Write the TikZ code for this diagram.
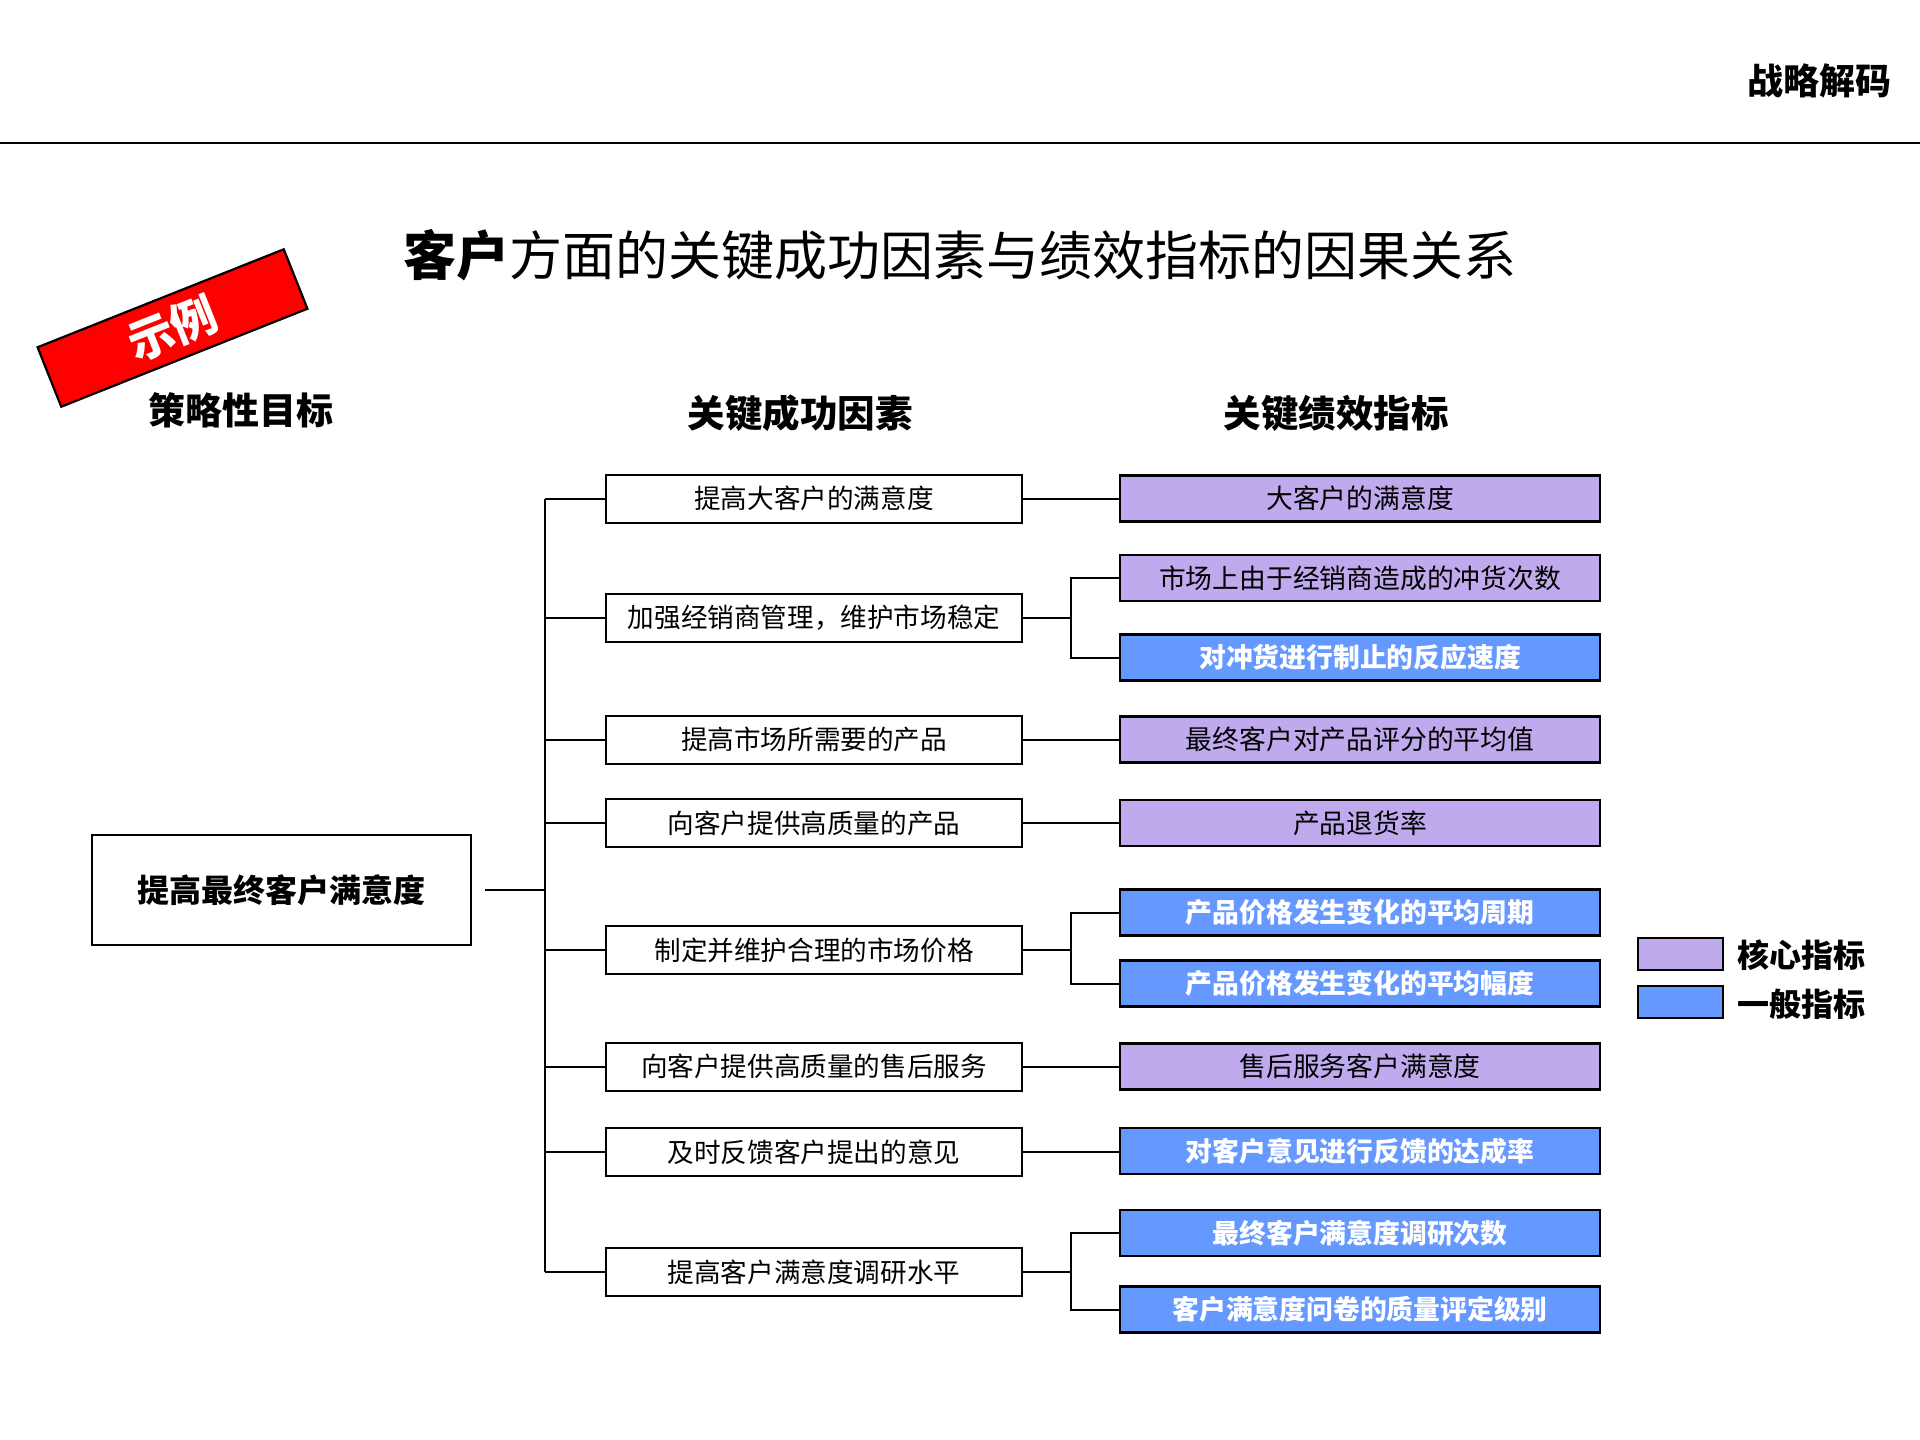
\documentclass[tikz,border=0pt]{standalone}
\usepackage{fontspec}
\setmainfont{Noto Sans CJK SC}
\definecolor{corec}{HTML}{BFAAEE}
\definecolor{genc}{HTML}{6699FF}
\begin{document}
\begin{tikzpicture}[x=1pt,y=-1pt,
  fs/.style={font=\fontsize{#1}{#1}\selectfont},
  fsb/.style={font=\fontsize{#1}{#1}\selectfont\bfseries},
  conn/.style={line width=2pt},
  midbox/.style={draw, line width=2pt, minimum width=416, minimum height=48, inner sep=0, fs=26.6},
  kpi/.style={draw, line width=2.2pt, minimum width=480, minimum height=46, inner sep=0},
  core/.style={kpi, fill=corec, fs=26.8},
  gen/.style={kpi, fill=genc, text=white, fsb=26.8},
  hdr/.style={fsb=37.5},
]
\useasboundingbox (0,0) rectangle (1920,1440);
% header
\draw[line width=2pt] (0,143) -- (1920,143);
\node[fsb=36, anchor=east] (brand) at (1895,81) {战略解码};
% title
\node[fs=53] (title) at (960,255) {{\bfseries 客户}方面的关键成功因素与绩效指标的因果关系};
% stamp
\node[rotate=21.7, fill=red, draw=black, line width=2.2pt, minimum width=265, minimum height=64, inner sep=0, fsb=46, text=white] (stamp) at (172.5,328) {示例};
% column headers
\node[fsb=37] (h1) at (241,410) {策略性目标};
\node[hdr] (h2) at (800,413) {关键成功因素};
\node[hdr] (h3) at (1336,413) {关键绩效指标};
% left goal
\node[draw, line width=2pt, minimum width=379, minimum height=110, inner sep=0, fsb=32] (goal) at (281.5,890) {提高最终客户满意度};
% middle
\node[midbox] (m1) at (814,498.5) {提高大客户的满意度};
\node[midbox] (m2) at (814,618) {加强经销商管理，维护市场稳定};
\node[midbox] (m3) at (814,739.5) {提高市场所需要的产品};
\node[midbox] (m4) at (814,823) {向客户提供高质量的产品};
\node[midbox] (m5) at (814,950) {制定并维护合理的市场价格};
\node[midbox] (m6) at (814,1066.5) {向客户提供高质量的售后服务};
\node[midbox] (m7) at (814,1152) {及时反馈客户提出的意见};
\node[midbox] (m8) at (814,1272) {提高客户满意度调研水平};
% kpis
\node[core] (k1) at (1360,498.5) {大客户的满意度};
\node[core] (k2) at (1360,578) {市场上由于经销商造成的冲货次数};
\node[gen]  (k3) at (1360,657.5) {对冲货进行制止的反应速度};
\node[core] (k4) at (1360,739.5) {最终客户对产品评分的平均值};
\node[core] (k5) at (1360,823) {产品退货率};
\node[gen]  (k6) at (1360,912.5) {产品价格发生变化的平均周期};
\node[gen]  (k7) at (1360,983.5) {产品价格发生变化的平均幅度};
\node[core] (k8) at (1360,1066.5) {售后服务客户满意度};
\node[gen]  (k9) at (1360,1151) {对客户意见进行反馈的达成率};
\node[gen]  (k10) at (1360,1233) {最终客户满意度调研次数};
\node[gen]  (k11) at (1360,1309.5) {客户满意度问卷的质量评定级别};
% trunk
\coordinate (tr) at (545,0);
\coordinate (gs) at ([xshift=13pt]goal.east);
\draw[conn] (m1.west -| tr) -- (m8.west -| tr);
\draw[conn] (gs) -- (gs -| tr);
\foreach \m in {m1,m2,m3,m4,m5,m6,m7,m8}
  \draw[conn] (\m.west -| tr) -- (\m.west);
% single links
\draw[conn] (m1.east) -- (m1.east -| k1.west);
\draw[conn] (m3.east) -- (m3.east -| k4.west);
\draw[conn] (m4.east) -- (m4.east -| k5.west);
\draw[conn] (m6.east) -- (m6.east -| k8.west);
\draw[conn] (m7.east) -- (m7.east -| k9.west);
% split links
\coordinate (sx) at (1071,0);
\draw[conn] (m2.east) -- (m2.east -| sx);
\draw[conn] (k2.west) -| (sx |- k2.west) |- (k3.west);
\draw[conn] (m5.east) -- (m5.east -| sx);
\draw[conn] (k6.west) -| (sx |- k6.west) |- (k7.west);
\draw[conn] (m8.east) -- (m8.east -| sx);
\draw[conn] (k10.west) -| (sx |- k10.west) |- (k11.west);
% legend
\node[draw, line width=2pt, fill=corec, minimum width=85, minimum height=32, inner sep=0] (lg1) at (1680.5,953.5) {};
\node[draw, line width=2pt, fill=genc, minimum width=85, minimum height=32, inner sep=0] (lg2) at (1680.5,1002) {};
\node[fsb=32, anchor=west] (lt1) at (1734,955) {核心指标};
\node[fsb=32, anchor=west] (lt2) at (1734,1004) {一般指标};
\end{tikzpicture}
\end{document}
